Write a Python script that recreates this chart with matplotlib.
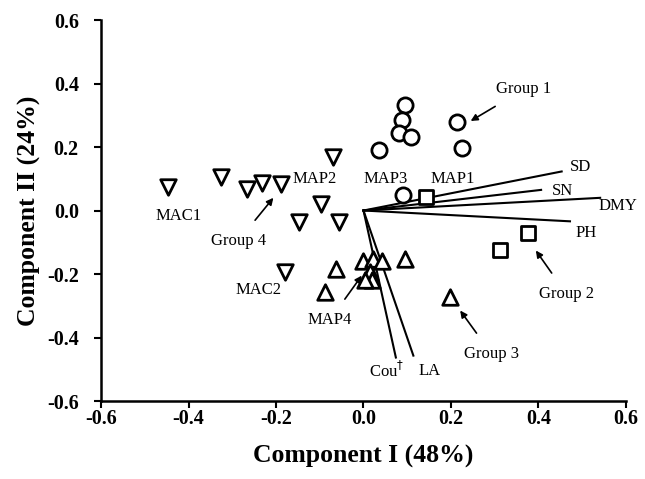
import matplotlib
matplotlib.use("Agg")
import matplotlib.pyplot as plt
import numpy as np

plt.rcParams['font.family'] = ['Liberation Serif', 'DejaVu Serif']

# scores
circle_x = [0.095, 0.087, 0.081, 0.109, 0.035, 0.213, 0.225, 0.090]
circle_y = [0.331, 0.284, 0.244, 0.233, 0.192, 0.279, 0.196, 0.050]

square_x = [0.144, 0.375, 0.311]
square_y = [0.044, -0.072, -0.123]

up_x = [-0.063, -0.088, 0.000, 0.022, 0.042, 0.095, 0.015, 0.019, 0.004, 0.198]
up_y = [-0.184, -0.258, -0.158, -0.153, -0.158, -0.153, -0.195, -0.220, -0.220, -0.273]

down_x = [-0.446, -0.326, -0.267, -0.231, -0.189, -0.069, -0.097, -0.055, -0.147, -0.179]
down_y = [0.073, 0.105, 0.068, 0.086, 0.084, 0.170, 0.019, -0.037, -0.037, -0.195]

# loadings
vec_names = ['SD', 'SN', 'DMY', 'PH', 'Cou$^{\\dagger}$', 'LA']
vec_x = [0.453, 0.406, 0.541, 0.472, 0.074, 0.114]
vec_y = [0.123, 0.065, 0.040, -0.034, -0.463, -0.457]
vec_lab_x = [0.495, 0.456, 0.582, 0.510, 0.053, 0.152]
vec_lab_y = [0.137, 0.061, 0.013, -0.072, -0.505, -0.505]

plain_labels = [('MAC1', -0.423, -0.016), ('MAP2', -0.111, 0.100),
                ('MAP3', 0.051, 0.100), ('MAP1', 0.205, 0.100),
                ('MAC2', -0.240, -0.250)]

arrow_labels = [('Group 1', 0.367, 0.382, 0.245, 0.282),
                ('Group 4', -0.286, -0.095, -0.206, 0.040),
                ('MAP4', -0.077, -0.345, -0.004, -0.205),
                ('Group 3', 0.293, -0.452, 0.221, -0.315),
                ('Group 2', 0.464, -0.263, 0.394, -0.126)]

ticks = [-0.6, -0.4, -0.2, 0.0, 0.2, 0.4, 0.6]

fig = plt.figure(figsize=(6.45, 4.79), dpi=100)
ax = fig.add_axes([0.1566, 0.1628, 0.8139, 0.7954])

for vx, vy in zip(vec_x, vec_y):
    ax.plot([0, vx], [0, vy], color='black', lw=1.5, zorder=2)

mk = dict(facecolor='white', edgecolor='black', linewidths=2, zorder=3)
ax.scatter(circle_x, circle_y, marker='o', s=120, **mk)
ax.scatter(square_x, square_y, marker='s', s=95, **mk)
ax.scatter(up_x, up_y, marker='^', s=125, **mk)
ax.scatter(down_x, down_y, marker='v', s=125, **mk)

for name, lx, ly in zip(vec_names, vec_lab_x, vec_lab_y):
    ax.text(lx, ly, name, ha='center', va='center', fontsize=12)

for name, lx, ly in plain_labels:
    ax.text(lx, ly, name, ha='center', va='center', fontsize=12)

for name, lx, ly, hx, hy in arrow_labels:
    ax.annotate(name, xy=(hx, hy), xytext=(lx, ly), ha='center', va='center',
                fontsize=12,
                arrowprops=dict(arrowstyle='-|>', color='black', lw=1.2,
                                mutation_scale=10, shrinkA=9, shrinkB=0))

ax.set_xlim(-0.6, 0.6)
ax.set_ylim(-0.6, 0.6)
ax.set_xticks(ticks)
ax.set_yticks(ticks)
ax.set_xticklabels(['%.1f' % t for t in ticks])
ax.set_yticklabels(['%.1f' % t for t in ticks])
for lab in ax.get_xticklabels() + ax.get_yticklabels():
    lab.set_fontweight('bold')
    lab.set_fontsize(14.5)
ax.tick_params(direction='out', length=5, width=1.5)
ax.tick_params(axis='x', pad=1)
ax.tick_params(axis='y', pad=11)
ax.spines['top'].set_visible(False)
ax.spines['right'].set_visible(False)
ax.spines['left'].set_linewidth(1.8)
ax.spines['bottom'].set_linewidth(1.8)

ax.set_xlabel('Component I (48%)', fontsize=18.5, fontweight='bold', labelpad=11)
ax.set_ylabel('Component II (24%)', fontsize=18.5, fontweight='bold', labelpad=4)

fig.savefig('out.png', dpi=100)
